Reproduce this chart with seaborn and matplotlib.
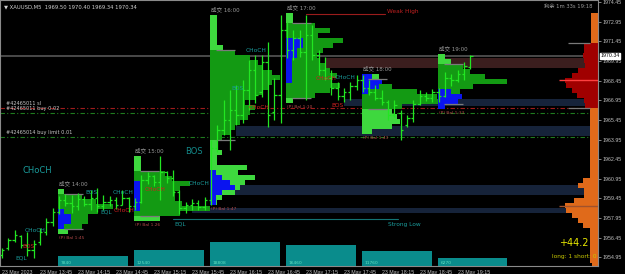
import numpy as np
import matplotlib
matplotlib.use("Agg")
import matplotlib.pyplot as plt
import seaborn as sns
from matplotlib.patches import Rectangle
import matplotlib.transforms as mtrans

# ---------------- data ----------------
tick_bars = [0, 6, 12, 18, 24, 30, 36, 42, 48, 54, 60, 66, 72]
tick_labels = ["23 May 2023", "23 May 13:45", "23 May 14:15", "23 May 14:45", "23 May 15:15",
               "23 May 15:45", "23 May 16:15", "23 May 16:45", "23 May 17:15", "23 May 17:45",
               "23 May 18:15", "23 May 18:45", "23 May 19:15"]

opens = [1955.13, 1955.67, 1956.28, 1956.58, 1955.90, 1955.52, 1956.13, 1956.89, 1957.65, 1958.42,
         1959.33, 1959.10, 1958.87, 1959.41, 1959.03, 1959.48, 1958.87, 1959.18, 1959.33, 1958.95,
         1959.48, 1958.87, 1959.18, 1960.86, 1961.16, 1960.71, 1961.47, 1961.01, 1959.94, 1958.72,
         1958.95, 1959.10, 1958.80, 1959.33, 1963.30, 1964.68, 1965.44, 1966.20, 1965.82, 1967.73,
         1969.26, 1967.58, 1969.87, 1966.05, 1967.35, 1972.31, 1970.78, 1971.70, 1970.63, 1971.93,
         1970.40, 1969.26, 1968.65, 1967.88, 1967.27, 1967.58, 1968.03, 1968.49, 1967.88, 1967.58,
         1967.12, 1966.81, 1965.82, 1965.97, 1965.06, 1965.59, 1966.66, 1967.27, 1967.12, 1967.58,
         1967.27, 1968.65, 1968.49, 1968.95, 1969.50]
highs = [1955.67, 1956.43, 1957.04, 1956.66, 1956.89, 1956.28, 1957.20, 1957.96, 1958.72, 1959.64,
         1959.79, 1959.71, 1959.87, 1959.64, 1960.10, 1960.25, 1959.71, 1959.64, 1959.56, 1960.10,
         1959.56, 1959.48, 1961.24, 1961.47, 1961.24, 1962.69, 1961.55, 1961.62, 1960.10, 1959.18,
         1959.41, 1959.33, 1959.56, 1963.91, 1965.06, 1966.97, 1967.73, 1968.11, 1968.49, 1970.02,
         1970.40, 1970.40, 1971.39, 1968.65, 1973.45, 1972.92, 1972.31, 1972.31, 1973.45, 1972.69,
         1970.78, 1970.25, 1969.26, 1968.34, 1967.88, 1968.34, 1968.87, 1968.87, 1968.49, 1968.11,
         1967.73, 1966.97, 1966.97, 1966.20, 1965.82, 1966.97, 1967.73, 1967.58, 1967.81, 1967.88,
         1969.10, 1968.95, 1969.26, 1969.87, 1970.40]
lows = [1954.90, 1955.52, 1956.13, 1955.67, 1955.06, 1954.90, 1955.90, 1956.66, 1957.35, 1958.26,
        1958.87, 1958.34, 1958.57, 1958.87, 1958.57, 1958.42, 1958.57, 1958.87, 1958.65, 1958.95,
        1958.42, 1958.57, 1959.10, 1960.55, 1960.40, 1959.33, 1960.63, 1959.64, 1958.26, 1958.34,
        1958.57, 1958.57, 1958.57, 1958.95, 1963.00, 1964.29, 1963.15, 1965.06, 1965.21, 1966.20,
        1966.74, 1967.20, 1964.90, 1965.44, 1965.21, 1970.17, 1970.02, 1970.25, 1966.97, 1970.02,
        1968.87, 1968.49, 1967.35, 1966.97, 1966.81, 1966.97, 1967.73, 1967.58, 1967.35, 1966.97,
        1966.58, 1965.44, 1965.67, 1963.91, 1964.90, 1965.29, 1966.58, 1966.89, 1966.81, 1966.81,
        1967.20, 1968.03, 1968.34, 1968.49, 1969.34]
closes = [1955.52, 1956.28, 1956.66, 1955.90, 1955.52, 1955.97, 1956.89, 1957.65, 1958.42, 1959.33,
          1959.10, 1958.87, 1959.41, 1959.03, 1959.48, 1958.87, 1959.18, 1959.33, 1958.95, 1959.48,
          1958.87, 1959.18, 1960.86, 1961.16, 1960.71, 1961.47, 1961.01, 1959.94, 1958.72, 1958.95,
          1959.10, 1958.80, 1959.33, 1963.30, 1964.68, 1965.44, 1966.20, 1965.82, 1967.73, 1969.26,
          1967.35, 1969.87, 1965.82, 1967.35, 1972.31, 1970.78, 1971.70, 1970.63, 1971.93, 1970.40,
          1969.26, 1968.65, 1967.88, 1967.27, 1967.58, 1968.03, 1968.49, 1967.88, 1967.58, 1967.12,
          1966.81, 1965.82, 1966.58, 1964.68, 1965.59, 1966.66, 1967.27, 1967.12, 1967.58, 1967.27,
          1968.65, 1968.49, 1968.95, 1969.56, 1970.34]

# hourly volume profiles (rows of 0.382 from the top price downwards)
profile_start = [9, 21, 33, 45, 57, 69]
profile_top = [1960.17, 1962.69, 1973.45, 1973.61, 1968.95, 1970.48]
profile_vol = [
    [6, 24, 38, 55, 40, 30, 30, 24, 10],
    [7, 7, 7, 31, 38, 56, 46, 41, 41, 48, 76, 46, 26],
    [7, 7, 7, 7, 7, 7, 13, 25, 40, 48, 52, 62, 70, 62, 58, 52, 45, 35, 45, 40, 38, 30, 25, 20, 12,
     7, 7, 12, 7, 7, 37, 28, 45, 35, 30, 25, 12, 7],
    [7, 7, 29, 44, 32, 57, 47, 37, 31, 34, 40, 44, 51, 46, 54, 44, 29, 7],
    [17, 20, 30, 55, 75, 85, 40, 30, 35, 38, 30, 10],
    [7, 13, 25, 32, 47, 69, 35, 22, 24, 20, 7],
]
profile_sell = [
    [0, 0, 0, 0, 6, 13, 13, 6, 0],
    [0, 0, 0, 0, 0, 6, 6, 6, 6, 6, 6, 0, 0],
    [0] * 31 + [6, 12, 20, 25, 12, 6, 6],
    [0, 0, 0, 0, 0, 17, 17, 11, 11, 6, 6, 6, 6, 6, 0, 0, 0, 0],
    [10, 20, 17, 6, 0, 0, 0, 0, 0, 0, 0, 0],
    [0, 0, 0, 0, 0, 0, 0, 13, 24, 20, 7],
]
profile_va = [(1, 7), (3, 11), (7, 24), (2, 16), (1, 6), (2, 9)]
profile_names = ["成交 14:00", "成交 15:00", "成交 16:00", "成交 17:00", "成交 18:00", "成交 19:00"]
profile_bal = ["(P) Bal 1:45", "(P) Bal 1.26", "(P) Bal 1:47", "(P) Bal 1:10", "(P) Bal 1:43", "(P) Bal 1:33"]

hour_volume = [7840, 12540, 18808, 16460, 11760, 6270]

session_top = 1973.61
session_vol = [7, 7, 7, 7, 7, 7, 14, 14, 15, 14, 13, 20, 26, 33, 32, 26, 21, 14, 13,
               8, 8, 8, 8, 8, 8, 8, 8, 8, 8, 8, 8, 8, 8,
               15, 20, 14, 14, 24, 33, 32, 26, 20, 15,
               8, 8, 8, 8, 8, 8, 8, 6]
session_va = (6, 18)
session_poc = [1968.49, 1958.87]

zone_lo = [1969.41, 1966.51, 1964.22, 1959.71, 1958.34]
zone_hi = [1970.17, 1967.04, 1964.98, 1960.48, 1958.72]
zone_start = [51, 54, 37, 33, 30]
zone_color = ["#3b1e1e", "#16233a", "#16233a", "#16233a", "#16233a"]

current_price = 1970.34
order_price = [1966.36, 1965.97, 1964.14]
order_text = ["#42465011 sl", "#42465011 buy 0.02", "#42465014 buy limit 0.01"]
order_color = ["#a01c1c", "#1f7a1f", "#1f7a1f"]

weak_high = 1973.53
weak_high_span = [48, 60.5]
strong_low = 1957.88
strong_low_span = [27, 62.5]

labels = [
    ("CHoCH", 3.2, 1961.62, "#1a9c9c", 6.0),
    ("BOS", 28.9, 1963.00, "#138a8a", 6.0),
    ("CHoCH", 3.6, 1957.04, "#1a9c9c", 4.2),
    ("BOS", 3.2, 1955.75, "#d02020", 4.2),
    ("EQL", 2.1, 1954.90, "#1a9c9c", 4.2),
    ("BOS", 13.1, 1959.94, "#1a9c9c", 4.2),
    ("CHoCH", 17.5, 1959.87, "#1a9c9c", 4.2),
    ("EQL", 15.6, 1958.45, "#1a9c9c", 4.2),
    ("CHoCH", 17.6, 1958.55, "#d02020", 4.2),
    ("CHoCH", 22.6, 1960.17, "#d02020", 4.2),
    ("EQL", 27.2, 1957.50, "#1a9c9c", 4.2),
    ("CHoCH", 29.5, 1960.63, "#1a9c9c", 4.2),
    ("CHoCH", 38.5, 1970.71, "#1a9c9c", 4.2),
    ("BOS", 36.2, 1967.88, "#1a9c9c", 4.2),
    ("CHoCH", 38.9, 1966.36, "#d02020", 4.2),
    ("CHoCH", 49.6, 1968.57, "#d02020", 4.2),
    ("CHoCH", 52.6, 1968.72, "#1a9c9c", 4.2),
    ("BOS", 52.1, 1966.58, "#d02020", 4.2),
    ("Weak High", 60.8, 1973.76, "#c02020", 4.2),
    ("Strong Low", 61.0, 1957.50, "#1a9c9c", 4.2),
]

# ---------------- style ----------------
sns.set_theme(style="dark", rc={"axes.facecolor": "black", "figure.facecolor": "black",
                                 "axes.grid": False})
plt.rcParams["font.family"] = ["DejaVu Sans", "Noto Sans CJK SC"]

PX_PER_BAR = 6.33
STEP = 0.382
XMIN, XMAX = -0.32, 94.15
YMIN, YMAX = 1954.295, 1974.6

fig = plt.figure(figsize=(6.25, 2.74), dpi=100)
ax = fig.add_axes([0, 8 / 274, 598 / 625, 266 / 274])
ax.set_facecolor("black")
ax.set_xlim(XMIN, XMAX)
ax.set_ylim(YMIN, YMAX)

# zones
for lo, hi, st, col in zip(zone_lo, zone_hi, zone_start, zone_color):
    ax.add_patch(Rectangle((st, lo), XMAX - st, hi - lo, color=col, zorder=0.5, lw=0))

# hourly profiles
DARK = "#139a13"
LIGHT = "#3ed83e"
BLUE = "#0a14f0"
for st, top, vols, sells, (va0, va1), name, bal in zip(profile_start, profile_top, profile_vol,
                                                       profile_sell, profile_va, profile_names,
                                                       profile_bal):
    n = len(vols)
    centers = top - (np.arange(n) + 0.5) * STEP
    cols = [DARK if va0 <= k <= va1 else LIGHT for k in range(n)]
    left = st - 0.2
    ax.barh(centers, np.array(vols) / PX_PER_BAR, left=left, height=STEP, color=cols,
            lw=0, zorder=1)
    ax.barh(centers, np.array(sells) / PX_PER_BAR, left=left, height=STEP, color=BLUE,
            lw=0, zorder=1.1)
    vah = top - va0 * STEP
    val = top - (va1 + 1) * STEP
    ax.hlines([vah, val], left + 1, left + 4, color="#7a7a7a", lw=0.9, zorder=1.2)
    ax.text(left + 0.2, top + 0.42, name, color="#9a9a9a", fontsize=4, va="center",
            ha="left", zorder=4)
    ax.text(left + 0.2, top - n * STEP - 0.15, bal, color="#b04848", fontsize=3.2,
            va="top", ha="left", zorder=4)

# session profile on the right
n = len(session_vol)
centers = session_top - (np.arange(n) + 0.5) * STEP
cols = ["#a00000" if session_va[0] <= k <= session_va[1] else "#e06a1a" for k in range(n)]
w = np.array(session_vol) / PX_PER_BAR
ax.barh(centers, w, left=XMAX - w, height=STEP, color=cols, lw=0, zorder=1)
ax.hlines(session_poc, XMAX - 39 / PX_PER_BAR, XMAX, color=["#ff4040", "#a0522d"],
          lw=1.0, zorder=1.3)
ax.hlines([session_top - session_va[0] * STEP, session_top - (session_va[1] + 1) * STEP],
          XMAX - 30 / PX_PER_BAR, XMAX - 8 / PX_PER_BAR, color="#7a7a7a", lw=0.9, zorder=1.3)

# price / order lines
ax.axhline(current_price, color="#4a4a4a", lw=1.4, zorder=0.8)
for p, t, c in zip(order_price, order_text, order_color):
    ax.axhline(p, color=c, lw=0.8, dashes=(4, 2, 1, 2), zorder=0.9)
    ax.text(0.6, p + 0.12, t, color="#c8c8c8", fontsize=3.6, va="bottom", ha="left", zorder=4)

# structure lines
sns.lineplot(x=weak_high_span, y=[weak_high, weak_high], ax=ax, color="#9a1c1c", lw=0.8,
             zorder=2)
sns.lineplot(x=strong_low_span, y=[strong_low, strong_low], ax=ax, color="#137373", lw=0.8,
             zorder=2)

# candles (OHLC bars)
idx = np.arange(len(opens))
CAND = "#22e622"
ax.vlines(idx, lows, highs, color=CAND, lw=0.9, zorder=3)
ax.hlines(opens, idx - 0.38, idx, color=CAND, lw=0.9, zorder=3)
ax.hlines(closes, idx, idx + 0.38, color=CAND, lw=0.9, zorder=3)

# labels
for t, x, y, c, s in labels:
    ax.text(x, y, t, color=c, fontsize=s, va="center", ha="left", zorder=4)

# hourly volume bars (secondary axis)
ax2 = ax.twinx()
ax2.set_ylim(0, 18808 * 266 / 24)
ax2.bar(np.array(profile_start) - 0.2, hour_volume, width=11.05, align="edge",
        color="#0a8c8c", lw=0, zorder=1)
for st, v in zip(profile_start, hour_volume):
    ax2.text(st + 0.3, 900, str(v), color="#5fe0c0", fontsize=3.2, va="bottom", ha="left")
ax2.set_yticks([])
ax2.grid(False)
for sp in ax2.spines.values():
    sp.set_visible(False)

# axes styling (after twinx, which moves ticks)
ax.yaxis.tick_right()
ax.yaxis.set_label_position("right")
yt = np.round(np.arange(1954.95, 1974.5, 1.5), 2)
ax.set_yticks(yt)
ax.set_yticklabels([f"{v:.2f}" for v in yt], fontfamily="Liberation Sans")
ax.set_xticks(tick_bars)
ax.set_xticklabels(tick_labels, ha="left", fontfamily="Liberation Sans")
ax.tick_params(axis="both", colors="#9a9a9a", labelsize=3.8, length=2, width=0.6, pad=1.0,
               labelcolor="#c0c0c0")
ax.tick_params(axis="y", left=False, labelleft=False, right=True, labelright=True)
for sp in ax.spines.values():
    sp.set_color("#8a8a8a")
    sp.set_linewidth(0.8)
    sp.set_visible(True)

# header / overlay texts
ax.text(0.006, 0.985, "▼ XAUUSD,M5  1969.50 1970.40 1969.34 1970.34", transform=ax.transAxes,
        color="#d0d0d0", fontsize=3.8, va="top", ha="left", zorder=5)
ax.text(0.91, 0.985, "剩余 1m 33s 19:18", transform=ax.transAxes, color="#9a9a9a",
        fontsize=3.8, va="top", ha="left", zorder=5)
ax.text(0.985, 0.085, "+44.2", transform=ax.transAxes, color="#e6e600", fontsize=7,
        va="center", ha="right", zorder=5)
ax.text(0.998, 0.035, "long: 1 short: 0", transform=ax.transAxes, color="#c8c800",
        fontsize=4.2, va="center", ha="right", zorder=5)
trans = mtrans.blended_transform_factory(ax.transAxes, ax.transData)
ax.text(1.004, current_price, f"{current_price:.2f}", transform=trans, color="black",
        fontsize=3.8, va="center", ha="left", zorder=6, fontfamily="Liberation Sans",
        bbox=dict(boxstyle="square,pad=0.15", fc="white", ec="white"))

fig.savefig("out.png", dpi=100, facecolor="black")
